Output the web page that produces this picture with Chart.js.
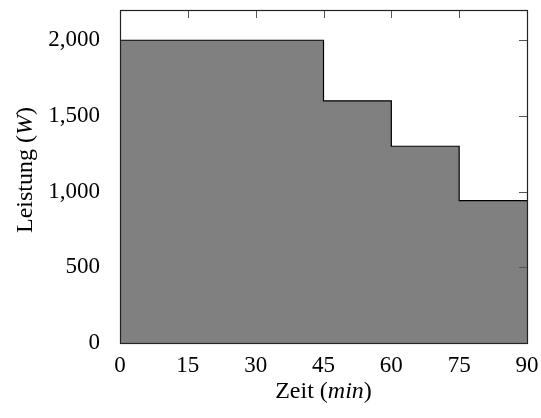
<!DOCTYPE html>
<html>
<head>
<meta charset="utf-8">
<script src="https://cdn.jsdelivr.net/npm/chart.js@4/dist/chart.umd.min.js"></script>
<style>
  html, body { margin: 0; padding: 0; background: #fff; }
  #wrap { width: 541px; height: 418px; }
</style>
</head>
<body>
<div id="wrap"><canvas id="chart" width="541" height="418"></canvas></div>
<script>
// power profile: each step starts at stepStart[i] and holds power[i]
var stepStart = [0, 45, 60, 75];
var power = [2000, 1600, 1300, 940];
var endTime = 90;

var xTicks = [0, 15, 30, 45, 60, 75, 90];
var yTicks = [0, 500, 1000, 1500, 2000];
var yMax = 2200;

var FONT = "'Liberation Serif', 'DejaVu Serif', serif";
var FONT_SIZE = 23;

var points = stepStart.map(function (t, i) { return { x: t, y: power[i] }; });
points.push({ x: endTime, y: power[power.length - 1] });

// frame around the plot area with pgfplots-style inward ticks on top and right
var framePlugin = {
  id: 'frame',
  afterDatasetsDraw: function (chart) {
    var ctx = chart.ctx;
    var a = chart.chartArea;
    var xs = chart.scales.x, ys = chart.scales.y;
    var tl = 8;
    ctx.save();
    ctx.strokeStyle = '#555';
    ctx.lineWidth = 1;
    ctx.beginPath();
    xTicks.forEach(function (v) {
      var px = Math.round(xs.getPixelForValue(v)) + 0.5;
      if (v === xs.min || v === xs.max) return;
      ctx.moveTo(px, a.top);
      ctx.lineTo(px, a.top + tl);
    });
    yTicks.forEach(function (v) {
      var py = Math.round(ys.getPixelForValue(v)) + 0.5;
      if (v === ys.min) return;
      ctx.moveTo(a.right, py);
      ctx.lineTo(a.right - tl, py);
    });
    ctx.stroke();
    ctx.strokeStyle = '#222';
    ctx.lineWidth = 1.2;
    ctx.strokeRect(Math.round(a.left) + 0.5, Math.round(a.top) + 0.5,
      Math.round(a.right - a.left), Math.round(a.bottom - a.top));
    ctx.restore();
  }
};

// axis titles with an italic unit
function drawMixed(ctx, parts, cx, cy) {
  var total = 0;
  parts.forEach(function (p) {
    ctx.font = (p.italic ? 'italic ' : '') + (FONT_SIZE + 1) + 'px ' + FONT;
    p.w = ctx.measureText(p.text).width;
    total += p.w;
  });
  var x = cx - total / 2;
  parts.forEach(function (p) {
    ctx.font = (p.italic ? 'italic ' : '') + (FONT_SIZE + 1) + 'px ' + FONT;
    ctx.fillText(p.text, x, cy);
    x += p.w;
  });
}

var titlePlugin = {
  id: 'axisTitles',
  afterDraw: function (chart) {
    var ctx = chart.ctx;
    var a = chart.chartArea;
    ctx.save();
    ctx.fillStyle = '#000';
    ctx.textAlign = 'left';
    ctx.textBaseline = 'middle';
    drawMixed(ctx, [{ text: 'Zeit (' }, { text: 'min', italic: true }, { text: ')' }],
      (a.left + a.right) / 2, 392);
    ctx.translate(26, 170);
    ctx.rotate(-Math.PI / 2);
    drawMixed(ctx, [{ text: 'Leistung (' }, { text: 'W', italic: true }, { text: ')' }], 0, 0);
    ctx.restore();
  }
};

new Chart(document.getElementById('chart'), {
  type: 'line',
  data: {
    datasets: [{
      data: points,
      stepped: true,
      fill: 'origin',
      backgroundColor: '#808080',
      borderColor: '#000',
      borderWidth: 1.2,
      pointRadius: 0
    }]
  },
  options: {
    responsive: false,
    animation: false,
    layout: { padding: { top: 10, right: 14, left: 0, bottom: 0 } },
    plugins: { legend: { display: false }, tooltip: { enabled: false } },
    scales: {
      x: {
        type: 'linear',
        min: 0,
        max: endTime,
        grid: { display: false },
        border: { display: false },
        afterBuildTicks: function (s) { s.ticks = xTicks.map(function (v) { return { value: v }; }); },
        afterFit: function (s) { s.height = 75; s.paddingLeft = 0; s.paddingRight = 0; },
        ticks: { color: '#000', padding: 1, maxRotation: 0, font: { family: FONT, size: FONT_SIZE } }
      },
      y: {
        min: 0,
        max: yMax,
        grid: { display: false },
        border: { display: false },
        afterBuildTicks: function (s) { s.ticks = yTicks.map(function (v) { return { value: v }; }); },
        afterFit: function (s) { s.width = 120; s.paddingTop = 0; s.paddingBottom = 0; },
        ticks: { color: '#000', padding: 12, font: { family: FONT, size: FONT_SIZE } }
      }
    }
  },
  plugins: [framePlugin, titlePlugin]
});
</script>
</body>
</html>
